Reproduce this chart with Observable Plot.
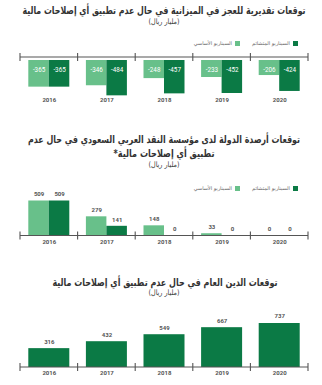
<!DOCTYPE html>
<html><head><meta charset="utf-8">
<script src="https://cdn.jsdelivr.net/npm/d3@7"></script>
<script src="https://cdn.jsdelivr.net/npm/@observablehq/plot@0.6"></script>
<style>
body{margin:0;background:#fff;}
#root{position:relative;width:322px;height:385px;overflow:hidden;font-family:"DejaVu Sans",sans-serif;}
.t{position:absolute;direction:rtl;white-space:nowrap;display:inline-block;}
.title{color:#333;font-weight:bold;font-size:10.5px;line-height:14px;}
.sub{color:#3b3b3b;font-size:7.5px;line-height:10px;}
.lg{position:absolute;font-size:5px;line-height:8px;color:#666;direction:rtl;white-space:nowrap;}
.sq{position:absolute;width:5px;height:5px;}
.p{position:absolute;left:0;}
</style></head>
<body><div id="root"></div>
<script>
const years = ["2016","2017","2018","2019","2020"];
const deficitBase = [-365,-346,-248,-233,-206];
const deficitPess = [-365,-484,-457,-452,-424];
const reservesBase = [509,279,148,33,0];
const reservesPess = [509,141,0,0,0];
const debt = [316,432,549,667,737];
const seriesNames = ["السيناريو الأساسي","السيناريو المتشائم"];
const title1 = "توقعات تقديرية للعجز في الميزانية في حال عدم تطبيق أي إصلاحات مالية";
const title2a = "توقعات أرصدة الدولة لدى مؤسسة النقد العربي السعودي في حال عدم";
const title2b = "تطبيق أي إصلاحات مالية*";
const title3 = "توقعات الدين العام في حال عدم تطبيق أي إصلاحات مالية";
const unit = "(مليار ريال)";

const DARK = "#0b7a45", LIGHT = "#68c08a", AX = "#555", LBL = "#555";
const W = 322;
const root = document.getElementById("root");

// text block centred at (cx, cy), condensed horizontally to a target width
function addText(cls, text, cy, cx, targetW) {
  const d = document.createElement("div");
  d.className = "t " + cls; d.textContent = text;
  root.appendChild(d);
  const r = d.getBoundingClientRect();
  const k = targetW ? Math.min(1, targetW / r.width) : 1;
  d.style.transform = `translateX(-50%) scaleX(${k})`;
  d.style.left = cx + "px";
  d.style.top = (cy - r.height / 2) + "px";
  return d;
}
function legend(cy) {
  const items = [[seriesNames[1], DARK, 24, 32], [seriesNames[0], LIGHT, 82, 90]];
  for (const [name, col, sqR, txtR] of items) {
    const s = document.createElement("div"); s.className = "sq";
    s.style.background = col; s.style.right = sqR + "px"; s.style.top = (cy - 2.5) + "px";
    root.appendChild(s);
    const t = document.createElement("div"); t.className = "lg"; t.textContent = name;
    t.style.right = txtR + "px"; t.style.top = (cy - 4) + "px";
    root.appendChild(t);
  }
}

// axis line with ticks at band boundaries, drawn from Plot's scales
function bandAxis(dy) {
  return (index, scales, values, dims) => {
    const x = scales.x;
    let bw = typeof x.bandwidth === "function" ? x.bandwidth() : (x(years[1]) - x(years[0]));
    let starts = years.map(d => x(d));
    if (Math.abs(starts[0] - dims.marginLeft) > 1) starts = starts.map(s => s - bw / 2);
    const xs = [...starts, starts[starts.length - 1] + bw];
    const y0 = scales.y(0) + dy;
    const g = d3.create("svg:g").attr("stroke", AX).attr("stroke-width", 1.1).attr("fill", "none");
    g.append("line").attr("x1", xs[0]).attr("x2", xs[xs.length - 1]).attr("y1", y0).attr("y2", y0);
    for (const xx of xs) g.append("line").attr("x1", xx).attr("x2", xx).attr("y1", y0 - 4).attr("y2", y0 + 4);
    return g.node();
  };
}

function mount(svg, top) {
  const wrap = document.createElement("div"); wrap.className = "p"; wrap.style.top = top + "px";
  wrap.appendChild(svg); root.appendChild(wrap);
}

const xOpts = {domain: years, range: [20, 308], padding: 0, round: false, axis: null};
const common = {width: W, marginLeft: 20, marginRight: 14, marginTop: 0, marginBottom: 0,
  style: {background: "transparent", fontFamily: "Roboto, sans-serif", overflow: "visible"}};
const yearText = (dy) => Plot.text(years, {x: d => d, y: () => 0, text: d => d, dy, fill: LBL, fontSize: 6, fontWeight: "bold"});

// ---------- Panel 1 ----------
addText("title", title1, 10, 163.5, 283);
addText("sub", unit, 22, 163.5, 31);
legend(43);
const rows1 = years.map((year, i) => ({year, base: deficitBase[i], pess: deficitPess[i]}));
mount(Plot.plot({...common, height: 62,
  x: xOpts,
  y: {domain: [-500, 0], range: [51.5, 15], axis: null},
  marks: [
    Plot.barY(rows1, {x: "year", y: "base", fill: LIGHT, insetLeft: 8.3, insetRight: 28.8}),
    Plot.barY(rows1, {x: "year", y: "pess", fill: DARK, insetLeft: 28.8, insetRight: 8.3}),
    Plot.text(rows1, {x: "year", y: () => 0, text: d => String(d.base), dx: -10.25, dy: 9, fill: "white", fontSize: 6.3}),
    Plot.text(rows1, {x: "year", y: () => 0, text: d => String(d.pess), dx: 10.25, dy: 9, fill: "white", fontSize: 6.3}),
    bandAxis(-3),
    yearText(40)
  ]}), 45);

// ---------- Panel 2 ----------
addText("title", title2a, 139, 164, 272);
addText("title", title2b, 153, 164, 101);
addText("sub", unit, 165, 163.5, 31);
legend(188);
const rows2 = years.map((year, i) => ({year, base: reservesBase[i], pess: reservesPess[i]}));
mount(Plot.plot({...common, height: 56,
  x: xOpts,
  y: {domain: [0, 509], range: [45.5, 10.5], axis: null},
  marks: [
    Plot.barY(rows2, {x: "year", y: "base", fill: LIGHT, insetLeft: 8.3, insetRight: 28.8}),
    Plot.barY(rows2, {x: "year", y: "pess", fill: DARK, insetLeft: 28.8, insetRight: 8.3}),
    Plot.text(rows2, {x: "year", y: "base", text: d => String(d.base), dx: -10.25, dy: -6.5, fill: LBL, fontSize: 6, fontWeight: "bold"}),
    Plot.text(rows2, {x: "year", y: "pess", text: d => String(d.pess), dx: 10.25, dy: -6.5, fill: LBL, fontSize: 6, fontWeight: "bold"}),
    bandAxis(0),
    yearText(6.5)
  ]}), 190);

// ---------- Panel 3 ----------
addText("title", title3, 282, 164.5, 225);
addText("sub", unit, 293, 163.5, 31);
const rows3 = years.map((year, i) => ({year, debt: debt[i]}));
mount(Plot.plot({...common, height: 76,
  x: xOpts,
  y: {domain: [0, 737], range: [62, 18], axis: null},
  marks: [
    Plot.barY(rows3, {x: "year", y: "debt", fill: DARK, insetLeft: 8.3, insetRight: 8.3}),
    Plot.text(rows3, {x: "year", y: "debt", text: d => String(d.debt), dy: -7, fill: LBL, fontSize: 6, fontWeight: "bold"}),
    bandAxis(0),
    yearText(6)
  ]}), 305);
</script></body></html>
